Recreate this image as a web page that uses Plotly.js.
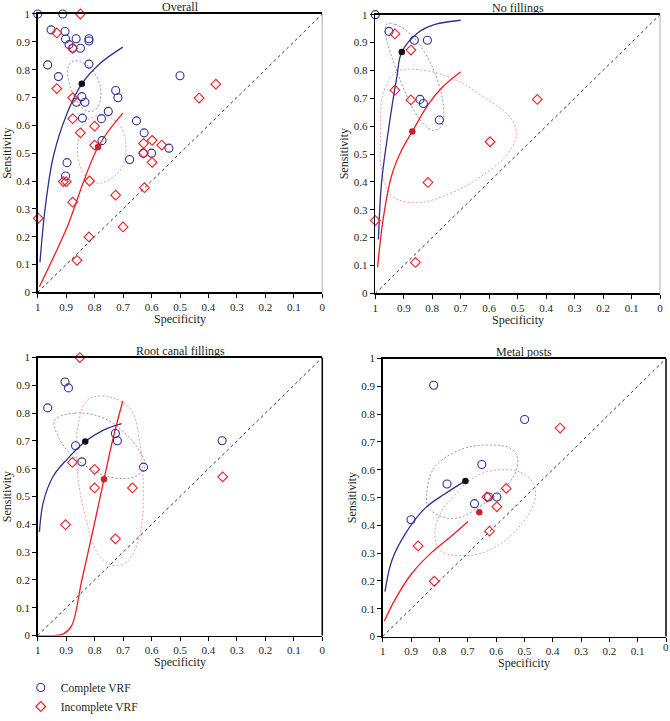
<!DOCTYPE html>
<html>
<head>
<meta charset="utf-8">
<script src="https://cdn.plot.ly/plotly-3.0.1.min.js"></script>
<style>html,body{margin:0;padding:0;background:#fff}#chart{width:670px;height:721px}</style>
</head>
<body>
<div id="chart"></div>
<script>
// ---------- tick labels ----------
const tickVals = [1, 0.9, 0.8, 0.7, 0.6, 0.5, 0.4, 0.3, 0.2, 0.1, 0];
const tickText = ['1', '0.9', '0.8', '0.7', '0.6', '0.5', '0.4', '0.3', '0.2', '0.1', '0'];
const panelTitles = ['Overall', 'No fillings', 'Root canal fillings', 'Metal posts'];
const seriesNames = ['Complete VRF', 'Incomplete VRF'];

// ---------- Overall ----------
const ovCompSpec = [1.0, 0.912, 0.953, 0.904, 0.902, 0.865, 0.89, 0.85, 0.877, 0.82, 0.82, 0.965, 0.82, 0.927, 0.845, 0.864, 0.834, 0.726, 0.718, 0.752, 0.843, 0.776, 0.653, 0.626, 0.774, 0.5, 0.677, 0.629, 0.6, 0.539, 0.897, 0.902];
const ovCompSens = [1.0, 1.0, 0.943, 0.937, 0.91, 0.911, 0.89, 0.877, 0.877, 0.911, 0.903, 0.817, 0.82, 0.775, 0.703, 0.683, 0.683, 0.725, 0.699, 0.65, 0.626, 0.624, 0.616, 0.573, 0.545, 0.778, 0.477, 0.5, 0.5, 0.518, 0.466, 0.418];
const ovIncSpec = [0.85, 0.933, 0.877, 0.933, 0.877, 0.877, 0.85, 0.8, 0.8, 0.628, 0.598, 0.564, 0.628, 0.598, 0.433, 0.374, 0.91, 0.9, 0.818, 0.877, 0.726, 0.625, 0.998, 0.7, 0.82, 0.862];
const ovIncSens = [1.0, 0.932, 0.877, 0.732, 0.699, 0.624, 0.573, 0.597, 0.529, 0.535, 0.546, 0.529, 0.5, 0.467, 0.698, 0.748, 0.398, 0.398, 0.4, 0.324, 0.349, 0.376, 0.266, 0.235, 0.199, 0.115];
const ovCompSummary = [[0.845], [0.749]];
const ovIncSummary = [[0.788], [0.522]];
const ovCompCurveSpec = [0.992, 0.974, 0.945, 0.898, 0.845, 0.781, 0.701];
const ovCompCurveSens = [0.108, 0.301, 0.488, 0.640, 0.749, 0.822, 0.881];
const ovIncCurveSpec = [0.994, 0.945, 0.898, 0.788, 0.701];
const ovIncCurveSens = [0.02, 0.125, 0.231, 0.522, 0.644];
const ovCompEllSpec = [0.875, 0.828, 0.793, 0.778, 0.787, 0.813, 0.845, 0.875, 0.892, 0.892, 0.875];
const ovCompEllSens = [0.831, 0.816, 0.775, 0.722, 0.67, 0.649, 0.664, 0.711, 0.763, 0.81, 0.831];
const ovIncEllSpec = [0.781, 0.728, 0.697, 0.690, 0.705, 0.746, 0.793, 0.834, 0.857, 0.857, 0.834, 0.781];
const ovIncEllSens = [0.635, 0.617, 0.570, 0.512, 0.447, 0.406, 0.392, 0.418, 0.477, 0.547, 0.611, 0.635];

// ---------- No fillings ----------
const nfCompSpec = [1.0, 0.952, 0.863, 0.817, 0.843, 0.831, 0.775];
const nfCompSens = [1.0, 0.940, 0.908, 0.908, 0.696, 0.681, 0.622];
const nfIncSpec = [0.931, 0.875, 0.931, 0.875, 0.431, 0.597, 0.815, 1.0, 0.859];
const nfIncSens = [0.931, 0.873, 0.729, 0.694, 0.696, 0.544, 0.398, 0.261, 0.111];
const nfCompSummary = [[0.907], [0.866]];
const nfIncSummary = [[0.870], [0.581]];
const nfCompCurveSpec = [0.989, 0.978, 0.954, 0.925, 0.907, 0.849, 0.790, 0.700];
const nfCompCurveSens = [0.193, 0.398, 0.585, 0.772, 0.866, 0.936, 0.965, 0.980];
const nfIncCurveSpec = [0.992, 0.972, 0.943, 0.907, 0.870, 0.814, 0.767, 0.700];
const nfIncCurveSens = [0.094, 0.269, 0.421, 0.515, 0.581, 0.678, 0.737, 0.795];
const nfCompEllSpec = [0.959, 0.93, 0.883, 0.824, 0.778, 0.760, 0.766, 0.795, 0.836, 0.883, 0.930, 0.959, 0.965, 0.959];
const nfCompEllSens = [0.967, 0.965, 0.936, 0.860, 0.754, 0.661, 0.602, 0.585, 0.614, 0.696, 0.813, 0.906, 0.947, 0.967];
const nfIncEllSpec = [0.966, 0.925, 0.837, 0.732, 0.615, 0.527, 0.504, 0.533, 0.626, 0.755, 0.861, 0.943, 0.978, 0.981, 0.978, 0.966];
const nfIncEllSens = [0.737, 0.795, 0.801, 0.772, 0.702, 0.632, 0.573, 0.503, 0.421, 0.351, 0.325, 0.351, 0.444, 0.585, 0.690, 0.737];

// ---------- Root canal fillings ----------
const rcCompSpec = [0.904, 0.892, 0.965, 0.867, 0.845, 0.727, 0.720, 0.628, 0.352];
const rcCompSens = [0.912, 0.891, 0.819, 0.683, 0.625, 0.727, 0.701, 0.606, 0.701];
const rcIncSpec = [0.852, 0.878, 0.8, 0.8, 0.667, 0.902, 0.727, 0.35];
const rcIncSens = [1.0, 0.623, 0.598, 0.531, 0.531, 0.399, 0.348, 0.571];
const rcCompSummary = [[0.833], [0.698]];
const rcIncSummary = [[0.767], [0.562]];
const rcCompCurveSpec = [0.994, 0.980, 0.945, 0.898, 0.833, 0.769, 0.705];
const rcCompCurveSens = [0.373, 0.481, 0.574, 0.633, 0.698, 0.739, 0.762];
const rcIncCurveSpec = [1.0, 0.945, 0.91, 0.881, 0.845, 0.804, 0.767, 0.734, 0.701];
const rcIncCurveSens = [0.0, 0.0, 0.006, 0.035, 0.199, 0.387, 0.562, 0.715, 0.844];
const rcCompEllSpec = [0.94, 0.87, 0.775, 0.699, 0.641, 0.623, 0.658, 0.740, 0.822, 0.892, 0.933, 0.94];
const rcCompEllSens = [0.775, 0.80, 0.785, 0.733, 0.662, 0.610, 0.572, 0.569, 0.604, 0.662, 0.727, 0.775];
const rcIncEllSpec = [0.781, 0.722, 0.670, 0.641, 0.629, 0.641, 0.682, 0.734, 0.787, 0.834, 0.863, 0.857, 0.828, 0.781];
const rcIncEllSens = [0.862, 0.850, 0.809, 0.692, 0.516, 0.363, 0.270, 0.252, 0.293, 0.434, 0.621, 0.762, 0.844, 0.862];

// ---------- Metal posts ----------
const mpCompSpec = [0.820, 0.499, 0.650, 0.773, 0.676, 0.626, 0.597, 0.900];
const mpCompSens = [0.904, 0.781, 0.619, 0.549, 0.478, 0.502, 0.502, 0.420];
const mpIncSpec = [0.374, 0.564, 0.632, 0.597, 0.623, 0.875, 0.818];
const mpIncSens = [0.750, 0.533, 0.502, 0.467, 0.379, 0.326, 0.199];
const mpCompSummary = [[0.708], [0.560]];
const mpIncSummary = [[0.659], [0.447]];
const mpCompCurveSpec = [0.992, 0.968, 0.922, 0.851, 0.781, 0.708];
const mpCompCurveSens = [0.162, 0.273, 0.367, 0.461, 0.513, 0.560];
const mpIncCurveSpec = [0.994, 0.957, 0.898, 0.828, 0.758, 0.699];
const mpIncCurveSens = [0.056, 0.132, 0.226, 0.302, 0.361, 0.414];
const mpCompEllSpec = [0.845, 0.822, 0.740, 0.634, 0.541, 0.523, 0.552, 0.634, 0.740, 0.804, 0.840, 0.845];
const mpCompEllSens = [0.508, 0.601, 0.666, 0.689, 0.672, 0.625, 0.555, 0.484, 0.426, 0.437, 0.467, 0.508];
const mpIncEllSpec = [0.617, 0.512, 0.465, 0.465, 0.512, 0.617, 0.722, 0.793, 0.816, 0.793, 0.746, 0.687, 0.617];
const mpIncEllSens = [0.596, 0.590, 0.543, 0.484, 0.402, 0.314, 0.291, 0.308, 0.367, 0.449, 0.508, 0.566, 0.596];

// ---------- styles ----------
const BLUE = '#2e3192';
const RED = '#ed1c24';
const BLUE_LIGHT = '#8f92d6';
const RED_LIGHT = '#f59a9a';
const FONT = 'Liberation Serif, DejaVu Serif, serif';

const panels = [
  {comp: [ovCompSpec, ovCompSens], inc: [ovIncSpec, ovIncSens], cs: ovCompSummary, is: ovIncSummary,
   cc: [ovCompCurveSpec, ovCompCurveSens], ic: [ovIncCurveSpec, ovIncCurveSens],
   ce: [ovCompEllSpec, ovCompEllSens], ie: [ovIncEllSpec, ovIncEllSens], rightColor: '#c8c8c8', edgeLabel: false},
  {comp: [nfCompSpec, nfCompSens], inc: [nfIncSpec, nfIncSens], cs: nfCompSummary, is: nfIncSummary,
   cc: [nfCompCurveSpec, nfCompCurveSens], ic: [nfIncCurveSpec, nfIncCurveSens],
   ce: [nfCompEllSpec, nfCompEllSens], ie: [nfIncEllSpec, nfIncEllSens], rightColor: '#c8c8c8', edgeLabel: false},
  {comp: [rcCompSpec, rcCompSens], inc: [rcIncSpec, rcIncSens], cs: rcCompSummary, is: rcIncSummary,
   cc: [rcCompCurveSpec, rcCompCurveSens], ic: [rcIncCurveSpec, rcIncCurveSens],
   ce: [rcCompEllSpec, rcCompEllSens], ie: [rcIncEllSpec, rcIncEllSens], rightColor: '#000', edgeLabel: false},
  {comp: [mpCompSpec, mpCompSens], inc: [mpIncSpec, mpIncSens], cs: mpCompSummary, is: mpIncSummary,
   cc: [mpCompCurveSpec, mpCompCurveSens], ic: [mpIncCurveSpec, mpIncCurveSens],
   ce: [mpCompEllSpec, mpCompEllSens], ie: [mpIncEllSpec, mpIncEllSens], rightColor: '#000', edgeLabel: true}
];

// pixel boxes of each plot area [left, right, top, bottom]
const W = 670, H = 721;
const boxes = [
  [37.7, 322.3, 14.3, 299],
  [375.3, 660, 15, 300],
  [37.7, 322.3, 365.7, 650],
  [382.7, 666, 366.7, 651]
];

const data = [];
const layout = {
  width: W, height: H,
  margin: {l: 0, r: 0, t: 0, b: 0},
  paper_bgcolor: '#fff', plot_bgcolor: '#fff',
  font: {family: FONT, size: 11, color: '#231f20'},
  showlegend: true,
  legend: {x: 0.031, y: 0.045, xanchor: 'left', yanchor: 'top', bgcolor: 'rgba(0,0,0,0)',
           font: {family: FONT, size: 11.5, color: '#231f20'}, tracegroupgap: 0, itemwidth: 30},
  shapes: [], annotations: []
};

panels.forEach((p, i) => {
  const n = i + 1;
  const xa = n === 1 ? 'x' : 'x' + n;
  const ya = n === 1 ? 'y' : 'y' + n;
  const b = boxes[i];
  // the label at the very right edge of the page is written as an annotation so it is not dropped
  const xText = p.edgeLabel ? tickText.map((t, k) => (k === tickText.length - 1 ? '' : t)) : tickText;
  layout[n === 1 ? 'xaxis' : 'xaxis' + n] = {
    domain: [b[0] / W, b[1] / W], anchor: ya, range: [1, 0],
    tickvals: tickVals, ticktext: xText, ticks: 'outside', ticklen: 4, tickcolor: '#000',
    showgrid: false, zeroline: false, showline: true, mirror: true, linecolor: '#000', linewidth: 1.5,
    tickfont: {family: FONT, size: 11, color: '#231f20'}, fixedrange: true
  };
  layout[n === 1 ? 'yaxis' : 'yaxis' + n] = {
    domain: [1 - b[3] / H, 1 - b[2] / H], anchor: xa, range: [0, 1],
    tickvals: tickVals, ticktext: tickText, ticks: 'outside', ticklen: 4, tickcolor: '#000',
    showgrid: false, zeroline: false, showline: true, mirror: false, linecolor: '#000', linewidth: 1.5,
    tickfont: {family: FONT, size: 11, color: '#231f20'}, fixedrange: true
  };
  if (p.edgeLabel) {
    layout.annotations.push({text: tickText[tickText.length - 1], xref: xa, yref: 'paper',
      x: tickVals[tickVals.length - 1], y: 1 - (b[3] + 11) / H, xanchor: 'center', yanchor: 'middle',
      showarrow: false, font: {family: FONT, size: 11, color: '#231f20'}});
  }
  // right border of the frame
  layout.shapes.push({type: 'line', xref: 'paper', yref: 'paper', x0: b[1] / W, x1: b[1] / W,
    y0: 1 - b[3] / H, y1: 1 - b[2] / H, line: {color: p.rightColor, width: 1.5}, layer: 'above'});
  // chance diagonal
  layout.shapes.push({type: 'line', xref: xa, yref: ya, x0: 1, y0: 0, x1: 0, y1: 1,
    line: {color: '#333', width: 1, dash: 'dot'}});

  // panel title, axis titles
  const cx = (b[0] + b[1]) / 2;
  layout.annotations.push({text: panelTitles[i], xref: 'paper', yref: 'paper', x: cx / W, y: 1 - (b[2] - 7) / H,
    xanchor: 'center', yanchor: 'middle', showarrow: false, font: {family: FONT, size: 12, color: '#231f20'}});
  layout.annotations.push({text: 'Specificity', xref: 'paper', yref: 'paper', x: cx / W, y: 1 - (b[3] + 27) / H,
    xanchor: 'center', yanchor: 'middle', showarrow: false, font: {family: FONT, size: 12, color: '#231f20'}});
  layout.annotations.push({text: 'Sensitivity', xref: 'paper', yref: 'paper', x: (b[0] - 31) / W, y: 1 - ((b[2] + b[3]) / 2) / H,
    xanchor: 'center', yanchor: 'middle', textangle: -90, showarrow: false, font: {family: FONT, size: 12, color: '#231f20'}});

  // ellipses
  data.push({x: p.ce[0], y: p.ce[1], xaxis: xa, yaxis: ya, mode: 'lines', showlegend: false, hoverinfo: 'skip',
    line: {color: BLUE_LIGHT, width: 1, dash: '2px,2px', shape: 'spline', smoothing: 1.1}});
  data.push({x: p.ie[0], y: p.ie[1], xaxis: xa, yaxis: ya, mode: 'lines', showlegend: false, hoverinfo: 'skip',
    line: {color: RED_LIGHT, width: 1, dash: '2px,2px', shape: 'spline', smoothing: 1.1}});
  // SROC curves
  data.push({x: p.cc[0], y: p.cc[1], xaxis: xa, yaxis: ya, mode: 'lines', showlegend: false, hoverinfo: 'skip',
    line: {color: BLUE, width: 1.3, shape: 'spline'}});
  data.push({x: p.ic[0], y: p.ic[1], xaxis: xa, yaxis: ya, mode: 'lines', showlegend: false, hoverinfo: 'skip',
    line: {color: RED, width: 1.3, shape: 'spline'}});
  // study points
  data.push({x: p.comp[0], y: p.comp[1], xaxis: xa, yaxis: ya, mode: 'markers', name: seriesNames[0],
    legendgroup: 'c', showlegend: i === 0, cliponaxis: false,
    marker: {symbol: 'circle-open', size: 8, color: BLUE, line: {width: 1.1, color: BLUE}}});
  data.push({x: p.inc[0], y: p.inc[1], xaxis: xa, yaxis: ya, mode: 'markers', name: seriesNames[1],
    legendgroup: 'i', showlegend: i === 0, cliponaxis: false,
    marker: {symbol: 'diamond-open', size: 7.5, color: RED, line: {width: 1.1, color: RED}}});
  // summary points
  data.push({x: p.cs[0], y: p.cs[1], xaxis: xa, yaxis: ya, mode: 'markers', showlegend: false,
    marker: {symbol: 'circle', size: 6.5, color: '#111'}});
  data.push({x: p.is[0], y: p.is[1], xaxis: xa, yaxis: ya, mode: 'markers', showlegend: false,
    marker: {symbol: 'circle', size: 6.5, color: '#c1272d'}});
});

Plotly.newPlot('chart', data, layout, {staticPlot: true, displayModeBar: false});
</script>
</body>
</html>
